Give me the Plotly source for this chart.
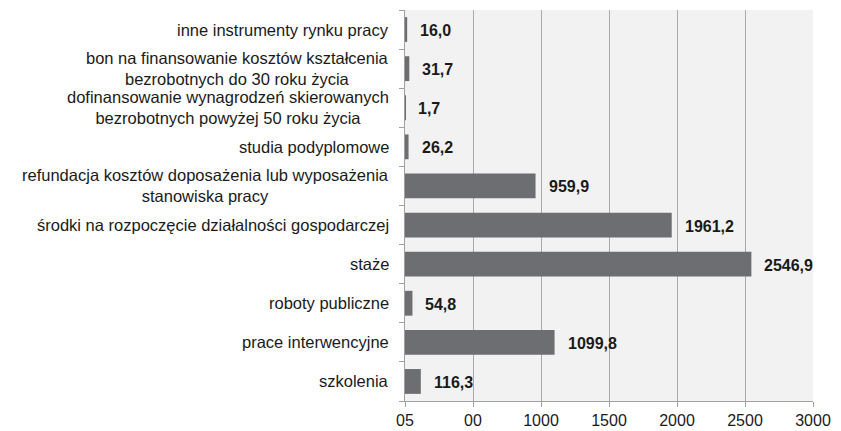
import plotly.graph_objects as go

# Data (bottom to top)
categories = [
    "szkolenia",
    "prace interwencyjne",
    "roboty publiczne",
    "staże",
    "środki na rozpoczęcie działalności gospodarczej",
    "refundacja kosztów doposażenia lub wyposażenia<br>stanowiska pracy",
    "studia podyplomowe",
    "dofinansowanie wynagrodzeń skierowanych<br>bezrobotnych powyżej 50 roku życia",
    "bon na finansowanie kosztów kształcenia<br>bezrobotnych do 30 roku życia",
    "inne instrumenty rynku pracy",
]
values = [116.3, 1099.8, 54.8, 2546.9, 1961.2, 959.9, 26.2, 1.7, 31.7, 16.0]
tick_vals = [0, 500, 1000, 1500, 2000, 2500, 3000]
tick_text = ["05", "00", "1000", "1500", "2000", "2500", "3000"]

font = "Liberation Sans, Arial, sans-serif"
fig = go.Figure()
fig.add_trace(go.Bar(
    x=values, y=categories, orientation="h",
    marker=dict(color="#6d6e71", line=dict(width=0)),
    showlegend=False, hoverinfo="x+y",
))

annotations = []
# value labels
for c, v in zip(categories, values):
    annotations.append(dict(
        x=v, y=c, xref="x", yref="y", xanchor="left", yanchor="middle",
        xshift=11, yshift=-1, showarrow=False,
        text="<b>" + f"{v:.1f}".replace(".", ",") + "</b>",
        font=dict(family=font, size=16, color="#1a1a1a"),
    ))
# category labels (centered multi-line)
for c in categories:
    annotations.append(dict(
        x=0, y=c, xref="paper", yref="y", xanchor="right", yanchor="middle",
        xshift=-14, showarrow=False, align="center",
        text=c, font=dict(family=font, size=16.5, color="#1a1a1a"),
    ))

# the page body adds an 8px margin, so the figure is sized to fit
fig.update_layout(
    width=833, height=423,
    margin=dict(l=397, r=28, t=2, b=27),
    paper_bgcolor="white", plot_bgcolor="#f2f2f2",
    bargap=0.365,
    annotations=annotations,
    font=dict(family=font, size=16, color="#1a1a1a"),
)
fig.update_xaxes(
    range=[0, 3000], tickvals=tick_vals, ticktext=tick_text,
    showgrid=True, gridcolor="#a9a9a9", gridwidth=1.3,
    showline=True, linecolor="#a0a0a0", linewidth=1.3,
    ticks="outside", ticklen=5, tickcolor="#a0a0a0",
    tickfont=dict(family=font, size=16, color="#1a1a1a"),
    zeroline=False, fixedrange=True,
)
fig.update_yaxes(
    type="category", categoryorder="array", categoryarray=categories,
    showticklabels=False, showgrid=False,
    showline=True, linecolor="#a0a0a0", linewidth=1.3,
    ticks="outside", ticklen=5, tickcolor="#a0a0a0", tickson="boundaries",
    fixedrange=True,
)

fig.write_html("out.html")
